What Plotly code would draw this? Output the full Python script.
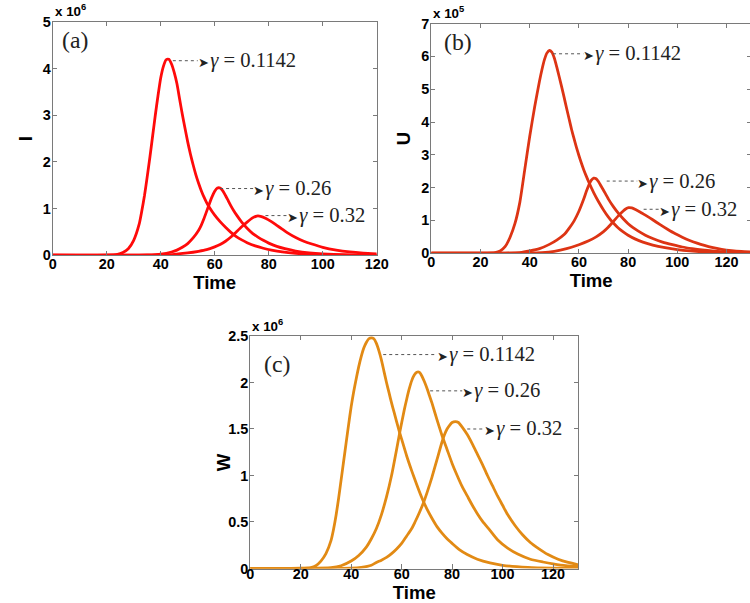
import plotly.graph_objects as go

# ---------------- data ----------------
gamma_labels = ["0.1142", "0.26", "0.32"]

# Panel (a): I  (values in units of 1e6)
t_a1 = [0, 20, 24, 26, 28, 30, 32, 33, 34, 35, 36, 37, 38, 39, 40, 41, 42, 43, 44, 45, 46, 47, 48, 49, 50, 51, 52, 53, 54, 55, 56, 57, 58, 60, 62, 64, 66, 68, 70, 72, 75, 78, 81, 85, 90, 95, 100, 110, 120]
I_a1 = [0, 0.003, 0.02, 0.06, 0.14, 0.32, 0.66, 0.95, 1.28, 1.68, 2.1, 2.55, 3.0, 3.42, 3.8, 4.05, 4.19, 4.2, 4.1, 3.92, 3.68, 3.35, 3.02, 2.72, 2.43, 2.17, 1.94, 1.73, 1.55, 1.39, 1.25, 1.13, 1.03, 0.86, 0.72, 0.6, 0.49, 0.4, 0.33, 0.27, 0.2, 0.15, 0.11, 0.07, 0.04, 0.022, 0.012, 0.004, 0.001]
t_a2 = [0, 30, 35, 40, 44, 46, 48, 50, 52, 54, 55, 56, 57, 58, 59, 60, 61, 62, 63, 64, 65, 66, 67, 68, 70, 72, 74, 76, 78, 80, 83, 86, 90, 95, 100, 110, 120]
I_a2 = [0, 0.002, 0.006, 0.025, 0.07, 0.11, 0.17, 0.25, 0.37, 0.53, 0.64, 0.78, 0.94, 1.1, 1.25, 1.37, 1.44, 1.44, 1.38, 1.28, 1.17, 1.06, 0.96, 0.87, 0.71, 0.58, 0.47, 0.39, 0.32, 0.26, 0.19, 0.14, 0.09, 0.05, 0.028, 0.009, 0.003]
t_a3 = [0, 35, 40, 45, 50, 54, 57, 60, 62, 64, 66, 68, 70, 72, 74, 75.6, 77, 79, 81, 83, 85, 87, 90, 93, 96, 100, 105, 110, 115, 120]
I_a3 = [0, 0.003, 0.008, 0.02, 0.05, 0.085, 0.12, 0.18, 0.23, 0.3, 0.39, 0.5, 0.61, 0.71, 0.8, 0.84, 0.835, 0.79, 0.72, 0.64, 0.56, 0.48, 0.38, 0.3, 0.24, 0.17, 0.11, 0.07, 0.045, 0.03]

# Panel (b): U  (values in units of 1e5)
t_b1 = [0, 20, 26, 28, 30, 32, 34, 36, 38, 40, 42, 44, 45, 46, 47, 48, 49, 50, 51, 52, 53, 54, 55, 56, 57, 58, 59, 60, 61, 62, 63, 64, 66, 68, 70, 72, 74, 76, 78, 80, 83, 86, 90, 95, 100, 105, 110, 120, 130]
U_b1 = [0, 0.004, 0.02, 0.07, 0.2, 0.48, 0.9, 1.55, 2.55, 3.55, 4.45, 5.25, 5.6, 5.9, 6.1, 6.18, 6.13, 5.95, 5.68, 5.38, 5.07, 4.75, 4.42, 4.1, 3.78, 3.5, 3.23, 2.98, 2.75, 2.54, 2.35, 2.17, 1.85, 1.57, 1.32, 1.1, 0.92, 0.77, 0.65, 0.55, 0.43, 0.34, 0.25, 0.17, 0.11, 0.07, 0.045, 0.02, 0.008]
t_b2 = [0, 30, 36, 40, 44, 48, 51, 54, 56, 58, 60, 62, 63, 64, 65, 66, 67, 68, 69, 70, 72, 74, 76, 78, 80, 82, 84, 87, 90, 94, 98, 102, 106, 110, 115, 120, 130]
U_b2 = [0, 0.005, 0.02, 0.07, 0.14, 0.27, 0.4, 0.57, 0.76, 0.98, 1.28, 1.66, 1.88, 2.07, 2.22, 2.29, 2.27, 2.18, 2.05, 1.92, 1.65, 1.42, 1.22, 1.05, 0.9, 0.78, 0.68, 0.55, 0.45, 0.34, 0.26, 0.19, 0.14, 0.1, 0.065, 0.04, 0.015]
t_b3 = [0, 40, 45, 50, 55, 60, 64, 67, 70, 72, 74, 76, 78, 79, 80.2, 81.5, 83, 85, 87, 90, 93, 96, 99, 102, 105, 108, 111, 114, 118, 122, 126, 130]
U_b3 = [0, 0.005, 0.02, 0.06, 0.14, 0.26, 0.38, 0.5, 0.66, 0.8, 0.97, 1.14, 1.29, 1.35, 1.39, 1.38, 1.33, 1.25, 1.16, 1.02, 0.87, 0.73, 0.6, 0.49, 0.39, 0.31, 0.24, 0.18, 0.12, 0.08, 0.055, 0.04]

# Panel (c): W  (values in units of 1e6)
t_c1 = [0, 20, 24, 26, 28, 30, 32, 33, 34, 35, 36, 37, 38, 39, 40, 41, 42, 43, 44, 45, 46, 47, 48, 49, 50, 51, 52, 53, 54, 55, 56, 57, 58, 59, 60, 62, 64, 66, 68, 70, 72, 74, 76, 78, 80, 83, 86, 90, 95, 100, 110, 120, 130]
W_c1 = [0, 0.003, 0.01, 0.03, 0.08, 0.16, 0.3, 0.42, 0.57, 0.75, 0.95, 1.15, 1.35, 1.55, 1.74, 1.9, 2.04, 2.17, 2.28, 2.37, 2.43, 2.47, 2.48, 2.47, 2.42, 2.34, 2.24, 2.12, 2.0, 1.89, 1.78, 1.68, 1.58, 1.48, 1.39, 1.21, 1.05, 0.9, 0.76, 0.64, 0.54, 0.45, 0.38, 0.32, 0.27, 0.2, 0.15, 0.1, 0.06, 0.035, 0.012, 0.004, 0.001]
t_c2 = [0, 32, 36, 40, 43, 46, 48, 50, 52, 54, 56, 58, 59.3, 61, 62, 63, 64, 65, 66, 67, 68, 69, 70, 71, 72, 74, 76, 78, 80, 82, 84, 86, 88, 90, 92, 95, 98, 102, 106, 111, 116, 120, 125, 130]
W_c2 = [0, 0.01, 0.03, 0.08, 0.14, 0.23, 0.32, 0.43, 0.58, 0.77, 1.0, 1.28, 1.47, 1.7, 1.82, 1.93, 2.02, 2.08, 2.11, 2.11, 2.07, 2.01, 1.94, 1.86, 1.78, 1.6, 1.43, 1.28, 1.13, 1.0, 0.88, 0.78, 0.68, 0.59, 0.51, 0.41, 0.31, 0.22, 0.155, 0.1, 0.07, 0.05, 0.03, 0.02]
t_c3 = [0, 40, 44, 48, 50, 52, 54, 56, 58, 60, 62, 64, 65.3, 67, 68.7, 70, 72, 74, 76, 77, 78, 79, 80, 81.3, 82.5, 84, 86, 88, 90, 92, 94, 96, 98, 100, 102, 105, 108, 111, 114, 118, 122, 126, 130]
W_c3 = [0, 0.004, 0.012, 0.035, 0.065, 0.09, 0.12, 0.16, 0.21, 0.27, 0.35, 0.43, 0.5, 0.6, 0.71, 0.81, 0.98, 1.17, 1.36, 1.44, 1.5, 1.54, 1.57, 1.58, 1.57, 1.52, 1.44, 1.34, 1.23, 1.12, 1.0, 0.89, 0.78, 0.68, 0.58, 0.46, 0.36, 0.28, 0.22, 0.15, 0.1, 0.065, 0.04]

x_ticks = [0, 20, 40, 60, 80, 100, 120]
y_ticks_a = [0, 1, 2, 3, 4, 5]
y_ticks_b = [0, 1, 2, 3, 4, 5, 6, 7]
y_ticks_c = [0, 0.5, 1, 1.5, 2, 2.5]
y_ticktext_c = ["0", "0.5", "1", "1.5", "2", "2.5"]

# ---------------- geometry ----------------
# The photograph shows the page scaled by about 0.97 with an 8px offset, so
# target positions (in photo pixels) are mapped back to figure pixels here.
S = 0.97
OFF = 8
FW, FH = 766, 614
def fx(x):
    return x / S - OFF
def px(x):
    return fx(x) / FW
def py(y):
    return 1 - fx(y) / FH
def fs(size):
    return size / S

COL_A = "#ff0a0a"
COL_B = "#dd3414"
COL_C = "#e28a14"
AX_COL = "#7a7a7a"
SANS = "Liberation Sans, Arial, sans-serif"
SERIF = "Liberation Serif, Times New Roman, serif"
LW = fs(2.7)

fig = go.Figure()

def add_curve(t, v, color, xa, ya):
    fig.add_trace(go.Scatter(x=t, y=v, mode="lines", xaxis=xa, yaxis=ya,
                             line=dict(color=color, width=LW, shape="spline", smoothing=0.6),
                             showlegend=False, hoverinfo="x+y"))

add_curve(t_a1, I_a1, COL_A, "x", "y")
add_curve(t_a2, I_a2, COL_A, "x", "y")
add_curve(t_a3, I_a3, COL_A, "x", "y")
add_curve(t_b1, U_b1, COL_B, "x2", "y2")
add_curve(t_b2, U_b2, COL_B, "x2", "y2")
add_curve(t_b3, U_b3, COL_B, "x2", "y2")
add_curve(t_c1, W_c1, COL_C, "x3", "y3")
add_curve(t_c2, W_c2, COL_C, "x3", "y3")
add_curve(t_c3, W_c3, COL_C, "x3", "y3")

TITLE_FONT = dict(family=SANS, size=fs(18), color="black")
X_LABEL_STANDOFF = -5
Y_LABEL_STANDOFF = -2

def axis_style(domain, rng, tickvals, ticktext=None, anchor=None, standoff=0,
               title=None, title_standoff=None):
    if ticktext is None:
        ticktext = [str(v) for v in tickvals]
    d = dict(domain=domain, range=rng, tickvals=tickvals,
             ticktext=["<b>" + s + "</b>" for s in ticktext],
             showgrid=False, zeroline=False,
             showline=True, linecolor=AX_COL, linewidth=1, mirror="ticks",
             ticks="inside", ticklen=fs(4), tickcolor=AX_COL, tickwidth=1,
             tickfont=dict(family=SANS, size=fs(14), color="black"),
             ticklabelstandoff=standoff,
             anchor=anchor, fixedrange=True)
    if title is not None:
        d["title"] = dict(text="<b>" + title + "</b>", font=TITLE_FONT, standoff=title_standoff)
    return d

fig.update_layout(
    width=FW, height=FH, autosize=False,
    margin=dict(l=0, r=0, t=0, b=0),
    paper_bgcolor="white", plot_bgcolor="white",
    xaxis=axis_style([px(56), px(377)], [0, 120], x_ticks, anchor="y", standoff=X_LABEL_STANDOFF,
                     title="Time", title_standoff=3),
    yaxis=axis_style([py(254), py(21.7)], [0, 5], y_ticks_a, anchor="x", standoff=Y_LABEL_STANDOFF,
                     title="I", title_standoff=5),
    xaxis2=axis_style([px(431), px(748)], [0, 130], x_ticks, anchor="y2", standoff=X_LABEL_STANDOFF,
                      title="Time", title_standoff=3),
    yaxis2=axis_style([py(252), py(23.3)], [0, 7], y_ticks_b, anchor="x2", standoff=Y_LABEL_STANDOFF,
                      title="U", title_standoff=5),
    # the bottom panel sits close to the page edge: lift its labels slightly so nothing is clipped
    xaxis3=axis_style([px(251.7), px(576.7)], [0, 130], x_ticks, anchor="y3", standoff=-8,
                      title="Time", title_standoff=0),
    yaxis3=axis_style([py(566), py(334.4)], [0, 2.5], y_ticks_c, y_ticktext_c, anchor="x3",
                      standoff=Y_LABEL_STANDOFF),
)

# dotted pointer lines + arrowheads + gamma labels
pointers = [
    # (xref, yref, x_start, x_tip, y, label)
    ("x", "y", 44.5, 55.7, 4.17, gamma_labels[0]),
    ("x", "y", 62.0, 76.3, 1.43, gamma_labels[1]),
    ("x", "y", 78.8, 88.7, 0.85, gamma_labels[2]),
    ("x2", "y2", 49.5, 63.8, 6.08, gamma_labels[0]),
    ("x2", "y2", 71.3, 85.7, 2.20, gamma_labels[1]),
    ("x2", "y2", 86.3, 94.5, 1.34, gamma_labels[2]),
    ("x3", "y3", 52.7, 76.0, 2.30, gamma_labels[0]),
    ("x3", "y3", 71.3, 86.0, 1.91, gamma_labels[1]),
    ("x3", "y3", 86.0, 94.7, 1.50, gamma_labels[2]),
]
annotations = []
shapes = []
for xr, yr, x0, x1, yv, lab in pointers:
    shapes.append(dict(type="line", xref=xr, yref=yr, x0=x0, x1=x1 - 2, y0=yv, y1=yv,
                       line=dict(color="#555555", width=1, dash="dot")))
    annotations.append(dict(xref=xr, yref=yr, x=x1, y=yv, xshift=-fs(7),
                            text="<span style='font-family:DejaVu Sans;font-size:%dpx'>➤</span>"
                                 "<span style='font-size:5px'> </span><i>γ</i> = " % round(fs(13)) + lab,
                            showarrow=False, xanchor="left", yanchor="middle",
                            font=dict(family=SERIF, size=fs(20), color="#222222")))

# panel letters
for txt, x, y in [("(a)", 63, 40), ("(b)", 442, 41.5), ("(c)", 263, 362.5)]:
    annotations.append(dict(xref="paper", yref="paper", x=px(x), y=py(y), text=txt,
                            showarrow=False, xanchor="left", yanchor="middle",
                            font=dict(family=SERIF, size=fs(23), color="#222222")))

# exponent labels
for txt, x, y in [("x 10<sup>6</sup>", 56, 21), ("x 10<sup>5</sup>", 431, 23), ("x 10<sup>6</sup>", 251.5, 334)]:
    annotations.append(dict(xref="paper", yref="paper", x=px(x), y=py(y), text="<b>" + txt + "</b>",
                            showarrow=False, xanchor="left", yanchor="bottom",
                            font=dict(family=SANS, size=fs(13), color="black")))

# y label of panel (c) sits below the middle of its axis in the reference
annotations.append(dict(xref="paper", yref="paper", x=px(225), y=py(460), text="<b>W</b>",
                        showarrow=False, xanchor="center", yanchor="middle", textangle=-90,
                        font=TITLE_FONT))

fig.update_layout(annotations=annotations, shapes=shapes)
fig.write_html("out.html", config={"displayModeBar": False},
               post_script="document.body.style.margin='0px';")
